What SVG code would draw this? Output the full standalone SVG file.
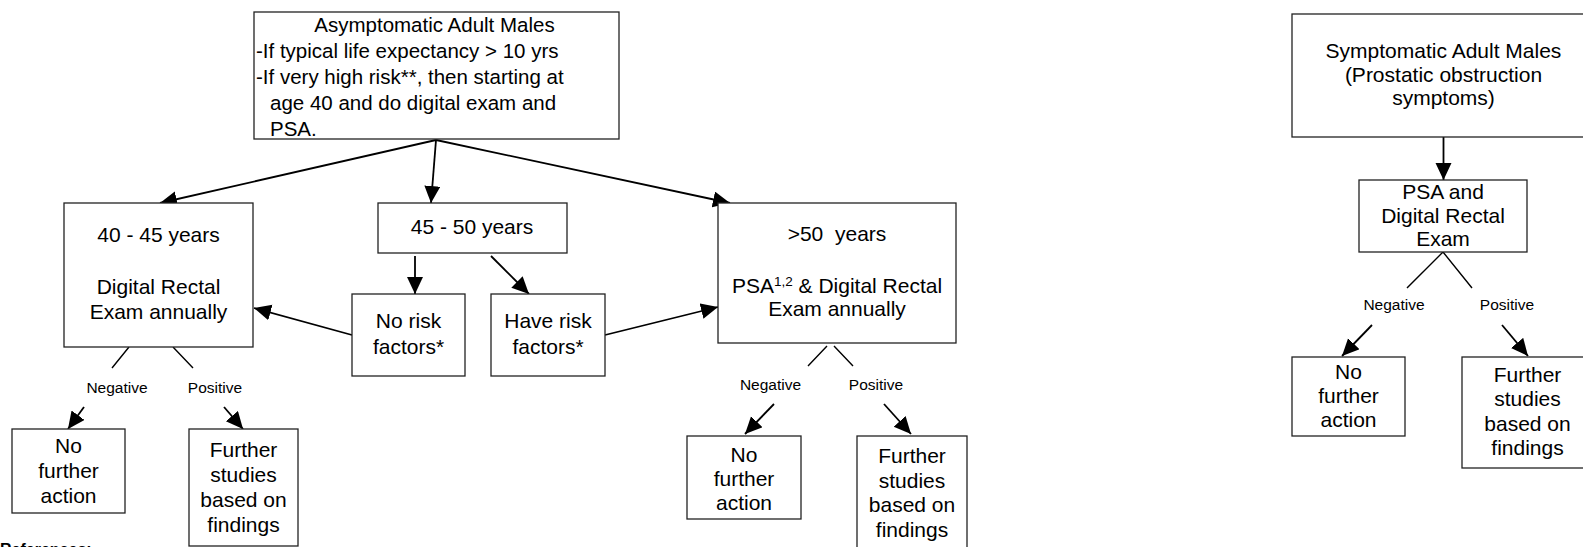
<svg xmlns="http://www.w3.org/2000/svg" width="1583" height="547" viewBox="0 0 1583 547">
<style>
text{font-family:"Liberation Sans",Arial,sans-serif;fill:#000}
.t{font-size:21px;text-anchor:middle}
.tb{font-size:20.5px}
.lab{font-size:15.5px;text-anchor:middle}
.box{fill:#fff;stroke:#222;stroke-width:1.3}
.c{fill:none;stroke:#000;stroke-width:1.8}
.a{marker-end:url(#ah)}
.s{fill:none;stroke:#000;stroke-width:1.4}
.ref{font-size:16px;font-weight:bold}
</style>
<defs>
<marker id="ah" markerUnits="userSpaceOnUse" markerWidth="18" markerHeight="17" refX="17" refY="8" orient="auto">
<path d="M0,0 L17,8 L0,16 Z" fill="#000"/>
</marker>
</defs>
<rect width="1583" height="547" fill="#fff"/>

<g id="connectors">
<path class="c a" d="M436,140 L160,203"/>
<path class="c a" d="M436,140 L431,203"/>
<path class="c a" d="M436,140 L730,203"/>
<path class="c a" d="M415,256 L415,294"/>
<path class="c a" d="M491,256 L529,294"/>
<path class="c a" d="M352,335 L254,308"/>
<path class="c a" d="M605,335 L718,307"/>
<path class="s" d="M129,347 L112,368 M173,347 L193,368"/>
<path class="c a" d="M84,407 L68,429"/>
<path class="c a" d="M224,407 L243,429"/>
<path class="s" d="M827,346 L808,366 M834,346 L853,366"/>
<path class="c a" d="M774,404 L745,434"/>
<path class="c a" d="M884,404 L911,434"/>
<path class="c a" d="M1443.5,137 L1443.5,180"/>
<path class="s" d="M1443,252 L1407,288 M1443,252 L1472,288"/>
<path class="c a" d="M1372,325 L1342,356"/>
<path class="c a" d="M1502,325 L1528,356"/>
</g>

<g id="asymptomatic">
<rect class="box" x="254" y="12" width="365" height="127"/>
<text class="tb" x="434.5" y="31.5" text-anchor="middle">Asymptomatic Adult Males</text>
<text class="tb" x="256" y="57.5">-If typical life expectancy &gt; 10 yrs</text>
<text class="tb" x="256" y="84">-If very high risk**, then starting at</text>
<text class="tb" x="270" y="110">age 40 and do digital exam and</text>
<text class="tb" x="270" y="136">PSA.</text>
</g>

<g id="age40-45">
<rect class="box" x="64" y="203" width="189" height="144"/>
<text class="t" x="158.5" y="242">40 - 45 years</text>
<text class="t" x="158.5" y="294">Digital Rectal</text>
<text class="t" x="158.5" y="319">Exam annually</text>
</g>

<g id="age45-50">
<rect class="box" x="378" y="203" width="189" height="50"/>
<text class="t" x="472" y="234">45 - 50 years</text>
</g>

<g id="no-risk">
<rect class="box" x="352" y="294" width="113" height="82"/>
<text class="t" x="408.5" y="328">No risk</text>
<text class="t" x="408.5" y="354">factors*</text>
</g>

<g id="have-risk">
<rect class="box" x="491" y="294" width="114" height="82"/>
<text class="t" x="548" y="328">Have risk</text>
<text class="t" x="548" y="354">factors*</text>
</g>

<g id="age50plus">
<rect class="box" x="718" y="203" width="238" height="140"/>
<text class="t" x="837" y="240.5">&gt;50&#160; years</text>
<text class="t" x="837" y="292.5">PSA<tspan font-size="13.5" dy="-7">1,2</tspan><tspan dy="7"> &amp; Digital Rectal</tspan></text>
<text class="t" x="837" y="316">Exam annually</text>
</g>

<g id="labels-left">
<text class="lab" x="117" y="392.5">Negative</text>
<text class="lab" x="215" y="392.5">Positive</text>
</g>

<g id="no-further-left">
<rect class="box" x="12" y="429" width="113" height="84"/>
<text class="t" x="68.5" y="453">No</text>
<text class="t" x="68.5" y="478">further</text>
<text class="t" x="68.5" y="503">action</text>
</g>

<g id="further-left">
<rect class="box" x="189" y="429" width="109" height="117"/>
<text class="t" x="243.5" y="456.5">Further</text>
<text class="t" x="243.5" y="481.5">studies</text>
<text class="t" x="243.5" y="506.5">based on</text>
<text class="t" x="243.5" y="531.5">findings</text>
</g>

<g id="labels-mid">
<text class="lab" x="770.5" y="389.5">Negative</text>
<text class="lab" x="876" y="389.5">Positive</text>
</g>

<g id="no-further-mid">
<rect class="box" x="687" y="436" width="114" height="83"/>
<text class="t" x="744" y="461.5">No</text>
<text class="t" x="744" y="485.5">further</text>
<text class="t" x="744" y="510">action</text>
</g>

<g id="further-mid">
<rect class="box" x="857" y="436" width="110" height="130"/>
<text class="t" x="912" y="463">Further</text>
<text class="t" x="912" y="487.5">studies</text>
<text class="t" x="912" y="511.5">based on</text>
<text class="t" x="912" y="536.5">findings</text>
</g>

<g id="symptomatic">
<rect class="box" x="1292" y="14" width="303" height="123"/>
<text class="t" x="1443.5" y="58.3">Symptomatic Adult Males</text>
<text class="t" x="1443.5" y="81.7">(Prostatic obstruction</text>
<text class="t" x="1443.5" y="105">symptoms)</text>
</g>

<g id="psa-dre">
<rect class="box" x="1359" y="180" width="168" height="72"/>
<text class="t" x="1443" y="198.5">PSA and</text>
<text class="t" x="1443" y="222.5">Digital Rectal</text>
<text class="t" x="1443" y="246">Exam</text>
</g>

<g id="labels-right">
<text class="lab" x="1394" y="310">Negative</text>
<text class="lab" x="1507" y="310">Positive</text>
</g>

<g id="no-further-right">
<rect class="box" x="1292" y="357" width="113" height="79"/>
<text class="t" x="1348.5" y="378.5">No</text>
<text class="t" x="1348.5" y="402.5">further</text>
<text class="t" x="1348.5" y="427">action</text>
</g>

<g id="further-right">
<rect class="box" x="1462" y="357" width="133" height="111"/>
<text class="t" x="1527.5" y="381.5">Further</text>
<text class="t" x="1527.5" y="406">studies</text>
<text class="t" x="1527.5" y="430.5">based on</text>
<text class="t" x="1527.5" y="455">findings</text>
</g>

<g id="references">
<text class="ref" x="0" y="555">References:</text>
</g>
</svg>
